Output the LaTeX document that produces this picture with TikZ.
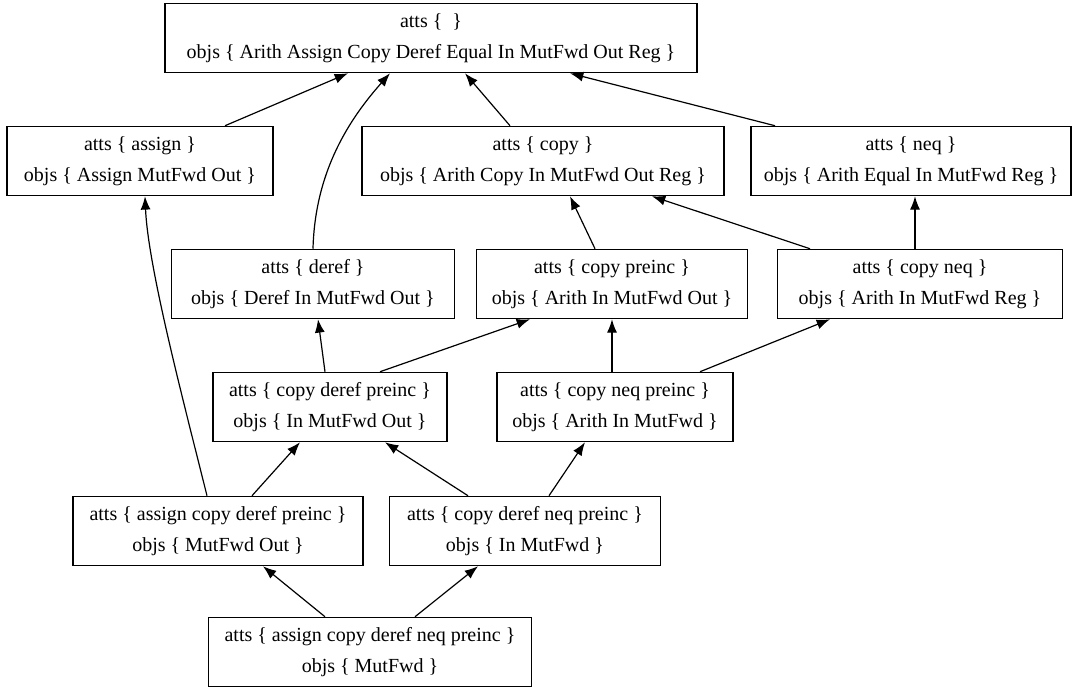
\documentclass[tikz,border=0pt]{standalone}
\usepackage{fontspec}
\setmainfont{Liberation Serif}
\usepackage{tikz}
\usetikzlibrary{arrows.meta, calc}

\begin{document}
\begin{tikzpicture}[x=0.75pt, y=-0.75pt, line width=0.9pt,
	-{Latex[length=10pt, width=7.5pt]},
	lat/.style={draw, rectangle, align=center, minimum height=52pt, inner xsep=0pt, minimum width=#1*0.75pt, font=\fontsize{15}{23.25}\selectfont}]
	\useasboundingbox (0,0) rectangle (1075,690);

	\node[lat=532] (top) at (431,38) {atts \{\ \ \}\\objs \{\ Arith Assign Copy Deref Equal In MutFwd Out Reg \}};
	\node[lat=266] (assign) at (140,161) {atts \{\ assign \}\\objs \{\ Assign MutFwd Out \}};
	\node[lat=362] (copy) at (543,161) {atts \{\ copy \}\\objs \{\ Arith Copy In MutFwd Out Reg \}};
	\node[lat=320] (neq) at (911,161) {atts \{\ neq \}\\objs \{\ Arith Equal In MutFwd Reg \}};
	\node[lat=283] (deref) at (313,284) {atts \{\ deref \}\\objs \{\ Deref In MutFwd Out \}};
	\node[lat=271] (cpre) at (612,284) {atts \{\ copy preinc \}\\objs \{\ Arith In MutFwd Out \}};
	\node[lat=285] (cneq) at (920,284) {atts \{\ copy neq \}\\objs \{\ Arith In MutFwd Reg \}};
	\node[lat=234] (cdp) at (330,407) {atts \{\ copy deref preinc \}\\objs \{\ In MutFwd Out \}};
	\node[lat=236] (cnp) at (615,407) {atts \{\ copy neq preinc \}\\objs \{\ Arith In MutFwd \}};
	\node[lat=290] (acdp) at (218,531) {atts \{\ assign copy deref preinc \}\\objs \{\ MutFwd Out \}};
	\node[lat=271] (cdnp) at (525,531) {atts \{\ copy deref neq preinc \}\\objs \{\ In MutFwd \}};
	\node[lat=323] (bottom) at (370,652) {atts \{\ assign copy deref neq preinc \}\\objs \{\ MutFwd \}};

	\path ($(assign.north)+(85,0)$) edge ($(top.south)+(-83,0)$);
	\draw (deref.north) .. controls +(2,-78) and +(-40,45) .. ($(top.south)+(-41,0)$);
	\path ($(copy.north)+(-33,0)$) edge ($(top.south)+(34,0)$);
	\path ($(neq.north)+(-136,0)$) edge ($(top.south)+(139,0)$);

	\path ($(cpre.north)+(-17,0)$) edge ($(copy.south)+(27,0)$);
	\path ($(cneq.north)+(-110,0)$) edge ($(copy.south)+(109,0)$);
	\path ($(cneq.north)+(-5,0)$) edge ($(neq.south)+(4,0)$);

	\path ($(cdp.north)+(-5,0)$) edge ($(deref.south)+(5,0)$);
	\path ($(cdp.north)+(50,0)$) edge ($(cpre.south)+(-82,0)$);
	\path ($(cnp.north)+(-3,0)$) edge (cpre.south);
	\path ($(cnp.north)+(85,0)$) edge ($(cneq.south)+(-90,0)$);

	\draw ($(acdp.north)+(-11,0)$) .. controls +(-25,-100) and +(3,70) .. ($(assign.south)+(5,0)$);
	\path ($(acdp.north)+(34,0)$) edge ($(cdp.south)+(-30,0)$);
	\path ($(cdnp.north)+(-57,0)$) edge ($(cdp.south)+(55,0)$);
	\path ($(cdnp.north)+(24,0)$) edge ($(cnp.south)+(-30,0)$);

	\path ($(bottom.north)+(-45,0)$) edge ($(acdp.south)+(45,0)$);
	\path ($(bottom.north)+(45,0)$) edge ($(cdnp.south)+(-47,0)$);
\end{tikzpicture}
\end{document}
